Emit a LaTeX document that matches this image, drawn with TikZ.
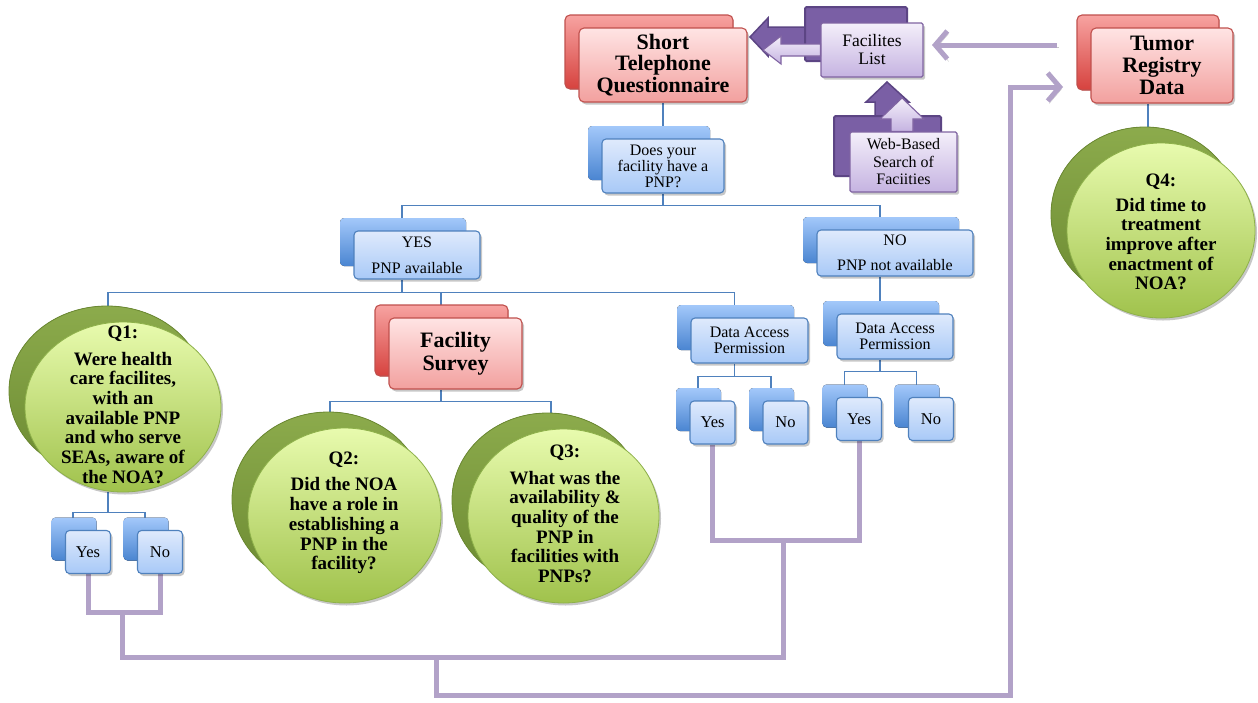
\documentclass[tikz,border=0pt]{standalone}
\usepackage{fontspec}
\setmainfont{Liberation Serif}
\usetikzlibrary{shapes.geometric,shadows,arrows.meta,backgrounds,calc}

\definecolor{redline}{HTML}{C0504D}
\definecolor{redT}{HTML}{FFE4E4}
\definecolor{redB}{HTML}{F2A09E}
\definecolor{redbT}{HTML}{F7A3A1}
\definecolor{redbB}{HTML}{D6423E}
\definecolor{blueline}{HTML}{4F81BD}
\definecolor{blueT}{HTML}{DFEAFC}
\definecolor{blueB}{HTML}{A8C9F7}
\definecolor{bluebT}{HTML}{A3C8FA}
\definecolor{bluebB}{HTML}{4A85D1}
\definecolor{greenline}{HTML}{8EB14A}
\definecolor{greenT}{HTML}{E8FBAE}
\definecolor{greenB}{HTML}{A0C24C}
\definecolor{greenbT}{HTML}{8CAB4C}
\definecolor{greenbB}{HTML}{6C8A32}
\definecolor{purpline}{HTML}{8064A2}
\definecolor{purpT}{HTML}{F4EFFA}
\definecolor{purpB}{HTML}{C5B3E1}
\definecolor{purpdark}{HTML}{7A5FA5}
\definecolor{purpdarkline}{HTML}{5C4584}
\definecolor{lavline}{HTML}{B2A2C8}

\begin{document}
\begin{tikzpicture}[x=1pt,y=-1pt,
  soft/.style={general shadow={fill=black,opacity=0.22,shadow xshift=2pt,shadow yshift=-2.5pt}},
  boxbase/.style={rectangle,rounded corners=5pt,inner sep=0pt,align=center,line width=1.1pt},
  redbox/.style={boxbase,draw=redline,top color=redT,bottom color=redB,
    copy shadow={shadow xshift=-14pt,shadow yshift=13pt,draw=redline,top color=redbT,bottom color=redbB},
    soft,font=\bfseries\fontsize{22}{21.5}\selectfont},
  bluebox/.style={boxbase,rounded corners=4pt,draw=blueline,top color=blueT,bottom color=blueB,
    copy shadow={shadow xshift=-14pt,shadow yshift=13pt,draw=none,top color=bluebT,bottom color=bluebB},
    soft,font=\fontsize{16}{16}\selectfont},
  sbox/.style={bluebox,minimum width=45pt,minimum height=43pt,font=\fontsize{16.5}{17}\selectfont},
  purpbox/.style={boxbase,rounded corners=1.5pt,draw=purpline,top color=purpT,bottom color=purpB,
    copy shadow={shadow xshift=-16pt,shadow yshift=16pt,draw=purpdarkline,line width=2pt,fill=purpdark},soft},
  qoval/.style={ellipse,inner sep=0pt,draw=greenline,line width=0.8pt,top color=greenT,bottom color=greenB,
    copy shadow={shadow xshift=-16pt,shadow yshift=16pt,draw=greenbB,top color=greenbT,bottom color=greenbB},soft},
  qtext/.style={align=center,font=\bfseries\fontsize{19}{19.7}\selectfont},
  tree/.style={draw=blueline,line width=1.3pt},
  lav/.style={draw=lavline,line width=5pt,
    general shadow={draw=black!30,opacity=0.7,shadow xshift=1.5pt,shadow yshift=-2.5pt}},
  lavtip/.style={-{Straight Barb[length=12pt,width=28pt]}},
  darkarrow/.style={fill=purpdark,draw=purpdarkline,line width=1.5pt,line join=miter},
  lightarrow/.style={top color=purpT,bottom color=purpB,draw=purpline,line width=1.1pt,line join=miter}
]
\useasboundingbox (0,0) rectangle (1258,702);

% ---- headings
\node[redbox,minimum width=168pt,minimum height=74pt] (stq) at (663,65) {Short\\Telephone\\Questionnaire};
\node[redbox,minimum width=142pt,minimum height=75pt,font=\bfseries\fontsize{22}{22}\selectfont] (trd) at (1162,65.5) {Tumor\\Registry\\Data};
\node[redbox,minimum width=133pt,minimum height=71pt,font=\bfseries\fontsize{22}{23}\selectfont] (fs) at (455.5,353.5) {Facility\\Survey};

% ---- decision boxes
\node[bluebox,minimum width=122pt,minimum height=54pt] (does) at (663,166) {Does your\\facility have a\\PNP?};
\node[bluebox,minimum width=126pt,minimum height=48pt] (yes) at (417,255) {YES\\[10pt]PNP available};
\node[bluebox,minimum width=156pt,minimum height=46pt] (no) at (895,253) {NO\\[9pt]PNP not available};
\node[bluebox,minimum width=117pt,minimum height=45pt] (dap1) at (749.5,340.5) {Data Access\\Permission};
\node[bluebox,minimum width=116pt,minimum height=45pt] (dap2) at (895,336.5) {Data Access\\Permission};
\node[sbox] (q1y) at (88,552) {Yes};
\node[sbox] (q1n) at (160,552) {No};
\node[sbox] (d1y) at (712.5,422.5) {Yes};
\node[sbox] (d1n) at (785.5,422.5) {No};
\node[sbox] (d2y) at (859,419) {Yes};
\node[sbox] (d2n) at (931,419) {No};

% ---- research questions
\node[qoval,minimum width=196pt,minimum height=170pt] (q1) at (123,407) {};
\node[qtext] (q1t) at (123,405) {Q1:\\[6.5pt]Were health\\care facilites,\\with an\\available PNP\\and who serve\\SEAs, aware of\\the NOA?};
\node[qoval,minimum width=193pt,minimum height=175pt] (q2) at (344.5,515.5) {};
\node[qtext] (q2t) at (344,513) {Q2:\\[6.5pt]Did the NOA\\have a role in\\establishing a\\PNP in the\\facility?};
\node[qoval,minimum width=191pt,minimum height=174pt] (q3) at (563.5,516) {};
\node[qtext] (q3t) at (565,514) {Q3:\\[6.5pt]What was the\\availability \&\\quality of the\\PNP in\\facilities with\\PNPs?};
\node[qoval,minimum width=188pt,minimum height=175pt] (q4) at (1161,230.5) {};
\node[qtext] (q4t) at (1161,232) {Q4:\\[5pt]Did time to\\treatment\\improve after\\enactment of\\NOA?};

% ---- facility sources
\node[purpbox,minimum width=102pt,minimum height=54pt,font=\fontsize{17.5}{18}\selectfont] (fl) at (872,50) {Facilites\\List};
\node[purpbox,minimum width=107pt,minimum height=60pt,font=\fontsize{16}{17.5}\selectfont] (wb) at (903.5,162) {Web-Based\\Search of\\Faciities};

% light block arrows in front
\path[lightarrow] (763,50) -- (781,36) -- (781,44) -- (fl.west |- 0,44) -- (fl.west |- 0,56) -- (781,56) -- (781,64) -- cycle;
\path[lightarrow] (902,98) -- (880,119) -- (891,119) -- (891,0 |- wb.north) -- (913,0 |- wb.north) -- (913,119) -- (924,119) -- cycle;

\coordinate (ja) at (122,612);
\coordinate (jb) at (783,657);
\coordinate (jc) at (783,540);
\coordinate (jf) at (436,657);
\coordinate (je) at (1010,695);
\coordinate (tin) at (1063,87);
\coordinate (fromtr) at (1057,45);
\coordinate (flin) at (932,45);

\begin{scope}[on background layer]
  \fill[white] (0,0) rectangle (1258,702);
  % dark block arrows behind
  \path[darkarrow] (750,37) -- (768,18) -- (768,27) -- (812,27) -- (812,47) -- (768,47) -- (768,56) -- cycle;
  \path[darkarrow] (887,82) -- (866,102) -- (875,102) -- (875,122) -- (898,122) -- (898,102) -- (909,102) -- cycle;

  % hierarchy connectors
  \draw[tree] (stq.south) -- (does.north);
  \draw[tree] (does.south) -- ++(0,12) coordinate (t1);
  \draw[tree] ($(yes.north)+(-15,0)$) |- (t1) -| ($(no.north)+(-15,0)$);
  \draw[tree] ($(yes.south)+(-15,0)$) -- ++(0,13) coordinate (t2);
  \draw[tree] ($(q1.north)+(-15,0)$) |- (t2) -| ($(dap1.north)+(-15,0)$);
  \draw[tree] ($(fs.north)+(-14.5,0)$) |- (t2);
  \draw[tree] ($(no.south)+(-15,0)$) -- ($(dap2.north)+(-15,0)$);
  \draw[tree] ($(fs.south)+(-14.5,0)$) -- ++(0,12) coordinate (t3);
  \draw[tree] ($(q2.north)+(-14.5,0)$) |- (t3) -| ($(q3.north)+(-12.5,0)$);
  \draw[tree] ($(q1.south)+(-15,0)$) -- ++(0,20) coordinate (t4);
  \draw[tree] ($(q1y.north)+(-15,0)$) |- (t4) -| ($(q1n.north)+(-15,0)$);
  \draw[tree] ($(dap1.south)+(-15,0)$) -- ++(0,13) coordinate (t5);
  \draw[tree] ($(d1y.north)+(-14.5,0)$) |- (t5) -| ($(d1n.north)+(-14.5,0)$);
  \draw[tree] ($(dap2.south)+(-15,0)$) -- ++(0,12) coordinate (t6);
  \draw[tree] ($(d2y.north)+(-14.5,0)$) |- (t6) -| ($(d2n.north)+(-14.5,0)$);
  \draw[tree] ($(trd.south)+(-14,0)$) -- ($(q4.north)+(-13,0)$);

  % data flow connectors
  \draw[lav] (q1y.south) |- (ja) -| (q1n.south);
  \draw[lav] (ja) |- (jb) -- (jc);
  \draw[lav] (d1y.south) |- (jc) -| (d2y.south);
  \draw[lav,lavtip] (jf) |- (je) -- (je |- tin) -- (tin);
  \draw[lav,lavtip] (fromtr) -- (flin);
\end{scope}
\end{tikzpicture}
\end{document}
